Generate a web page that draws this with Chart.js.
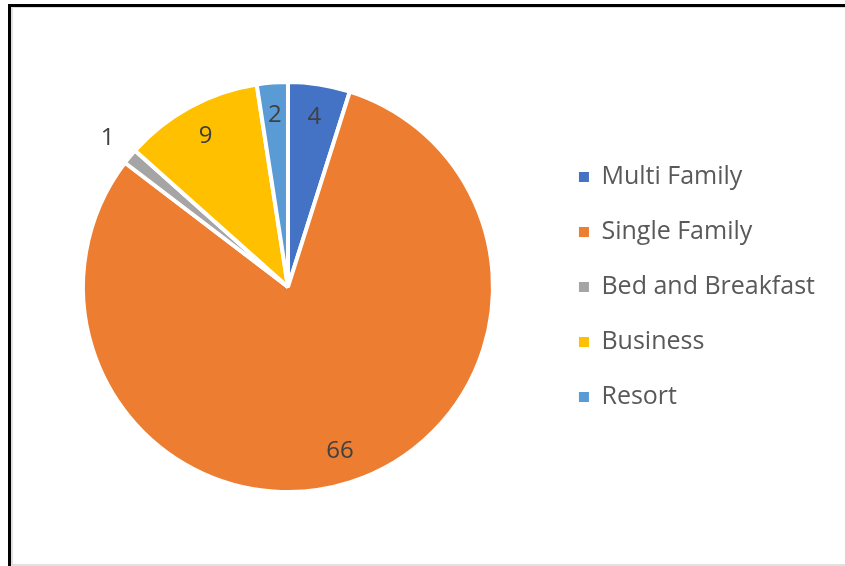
<!DOCTYPE html>
<html>
<head>
<meta charset="utf-8">
<script src="https://cdn.jsdelivr.net/npm/chart.js@4/dist/chart.umd.min.js"></script>
<style>
  html, body { margin: 0; padding: 0; background: #fff; }
  body { width: 845px; height: 566px; position: relative; overflow: hidden; }
  #frame { position: absolute; left: 8px; top: 4px; width: 837px; height: 562px; box-sizing: border-box;
           border-top: 3px solid #000; border-left: 3px solid #000; }
  #inner { position: absolute; left: 0; top: 0; right: 0; bottom: 0; box-sizing: border-box;
           border-top: 1px solid #dcdcdc; border-left: 2px solid #e0e0e0; border-bottom: 2px solid #e0e0e0; }
  #wrap { position: absolute; left: 0; top: 0; width: 845px; height: 566px; }
</style>
</head>
<body>
<div id="frame"><div id="inner"></div></div>
<div id="wrap"><canvas id="c" width="845" height="566"></canvas></div>
<script>
const categories = ["Multi Family", "Single Family", "Bed and Breakfast", "Business", "Resort"];
const values = [4, 66, 1, 9, 2];
const colors = ["#4472C4", "#ED7D31", "#A5A5A5", "#FFC000", "#5B9BD5"];

const FONT = "'Open Sans', 'Noto Sans', sans-serif";

const sliceLabels = {
  id: 'sliceLabels',
  afterDatasetsDraw(chart) {
    const ctx = chart.ctx;
    const meta = chart.getDatasetMeta(0);
    const data = chart.data.datasets[0].data;
    const total = data.reduce((a, b) => a + b, 0);
    ctx.save();
    ctx.font = "24px " + FONT;
    ctx.fillStyle = "#404040";
    ctx.textAlign = "center";
    ctx.textBaseline = "middle";
    meta.data.forEach((arc, i) => {
      const p = arc.getProps(['x', 'y', 'startAngle', 'endAngle', 'outerRadius'], true);
      const mid = (p.startAngle + p.endAngle) / 2;
      const frac = data[i] / total;
      const f = frac < 0.015 ? 1.14 : 0.84;
      const r = p.outerRadius * f;
      ctx.fillText(String(data[i]), p.x + Math.cos(mid) * r, p.y + Math.sin(mid) * r);
    });
    ctx.restore();
  }
};

new Chart(document.getElementById('c'), {
  type: 'pie',
  data: {
    labels: categories,
    datasets: [{
      data: values,
      backgroundColor: colors,
      borderColor: "#ffffff",
      borderWidth: 4
    }]
  },
  options: {
    responsive: false,
    animation: false,
    layout: { padding: { left: 27, top: 80, bottom: 72, right: 20 } },
    plugins: {
      tooltip: { enabled: false },
      legend: {
        position: 'right',
        labels: {
          boxWidth: 10,
          boxHeight: 10,
          padding: 30,
          color: "#595959",
          font: { family: FONT, size: 25 },
          generateLabels(chart) {
            const items = Chart.controllers.pie.overrides.plugins.legend.labels.generateLabels(chart);
            items.forEach(it => { it.lineWidth = 0; it.strokeStyle = it.fillStyle; });
            return items;
          }
        }
      }
    }
  },
  plugins: [sliceLabels]
});
</script>
</body>
</html>
